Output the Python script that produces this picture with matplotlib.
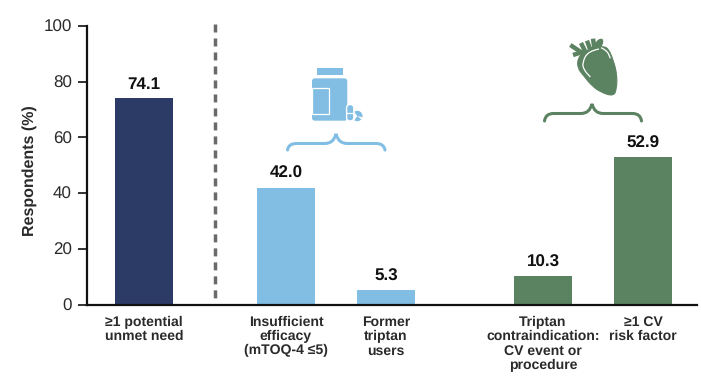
import matplotlib
matplotlib.use("Agg")
import matplotlib.pyplot as plt
from matplotlib.patches import PathPatch, FancyBboxPatch, Rectangle, Wedge
from matplotlib.path import Path

plt.rcParams['font.family'] = ['Liberation Sans', 'DejaVu Sans']
plt.rcParams['text.hinting'] = 'no_hinting'
plt.rcParams['text.hinting_factor'] = 1

categories = ["≥1 potential\nunmet need", "Insufficient\nefficacy\n(mTOQ-4 ≤5)", "Former\ntriptan\nusers",
              "Triptan\ncontraindication:\nCV event or\nprocedure", "≥1 CV\nrisk factor"]
values = [74.1, 42.0, 5.3, 10.3, 52.9]
y_ticks = [0, 20, 40, 60, 80, 100]

NAVY, BLUE, GREEN = "#2C3A66", "#82BDE3", "#5C8361"
TEXT = "#2A2A2A"
bar_colors = [NAVY, BLUE, BLUE, GREEN, GREEN]
slots = [0.575, 1.995, 2.995, 4.565, 5.565]

W, H = 701, 380
fig = plt.figure(figsize=(W / 100, H / 100), dpi=100)
ax = fig.add_axes([86.5 / W, 1 - 304.5 / H, 610.5 / W, 278.5 / H])
ax.set_xlim(0, 6.105)
ax.set_ylim(0, 100)

ax.bar(slots, values, width=0.58, color=bar_colors, linewidth=0)
for x, v in zip(slots, values):
    ax.text(x, v + 2.1, f"{v:.1f}", ha="center", va="bottom", fontsize=12.4,
            fontweight="bold", color="#111111")

for side in ("top", "right"):
    ax.spines[side].set_visible(False)
for side in ("left", "bottom"):
    ax.spines[side].set_linewidth(1.6)
    ax.spines[side].set_color("#111111")
ax.set_yticks(y_ticks)
ax.tick_params(axis="y", length=6.5, width=1.2, labelsize=12.4, labelcolor=TEXT, pad=4, color="#111111")
ax.set_xticks(slots)
ax.set_xticklabels(categories, fontsize=10.4, fontweight="bold", color=TEXT, linespacing=1.13)
ax.tick_params(axis="x", length=0, pad=8)
ax.set_ylabel("Respondents (%)", fontsize=11.3, fontweight="bold", color=TEXT)
ax.yaxis.set_label_coords(-0.0806, 0.479)

# Overlay in figure pixels for the divider, braces and icons
ov = fig.add_axes([0, 0, 1, 1], facecolor="none")
ov.set_xlim(0, W)
ov.set_ylim(H, 0)
ov.axis("off")

ov.plot([215, 215], [24, 300], color="#6A6A6A", lw=2.5, dashes=(2.3, 1.73), solid_capstyle="butt")


def brace(xl, xm, xr, y_top, y_end, color):
    v = [(xl, y_end), (xl + 1, y_top), (xl + 9, y_top),
         (xm - 12, y_top), (xm - 12, y_top), (xm - 5, y_top), (xm - 2, y_top - 3), (xm, y_top - 9.5),
         (xm + 2, y_top - 3), (xm + 5, y_top), (xm + 12, y_top),
         (xr - 9, y_top), (xr - 1, y_top), (xr, y_end)]
    c = [Path.MOVETO, Path.CURVE3, Path.CURVE3,
         Path.LINETO, Path.LINETO, Path.CURVE4, Path.CURVE4, Path.CURVE4,
         Path.CURVE4, Path.CURVE4, Path.CURVE4,
         Path.LINETO, Path.CURVE3, Path.CURVE3]
    ov.add_patch(PathPatch(Path(v, c), fc="none", ec=color, lw=2.2, capstyle="round"))


brace(287.5, 336, 385, 143.5, 150, BLUE)
brace(544.5, 592, 641.5, 113.5, 121, GREEN)

# Medicine bottle
ov.add_patch(Rectangle((316.7, 68), 26, 7.3, fc=BLUE, ec="none"))
ov.add_patch(FancyBboxPatch((313, 79.3), 33.3, 40.4, boxstyle="round,pad=0,rounding_size=1.8",
                            fc=BLUE, ec=BLUE, lw=1.4))
ov.add_patch(Rectangle((312.3, 87.5), 17, 26, fc="none", ec="white", lw=0.9))
ov.add_patch(Rectangle((309.5, 86), 2.4, 29, fc="white", ec="none"))
ov.add_patch(Wedge((357.3, 116), 5.2, -130, 15, fc=BLUE, ec="none"))
ov.add_patch(Wedge((357.3, 116), 5.2, 40, 125, fc=BLUE, ec="none"))
ov.add_patch(FancyBboxPatch((346.6, 104.5), 7.2, 16.5, boxstyle="round,pad=0,rounding_size=3.6",
                            fc=BLUE, ec="white", lw=1.0))
ov.plot([346.6, 353.8], [112.5, 112.5], color="white", lw=0.9)


def heart_px(zx, zy):
    return (565 + zx / 3, 35 + zy / 3)


def smooth_path(points):
    # Quadratic spline through midpoints of the control polygon
    verts = [heart_px(*points[0])]
    codes = [Path.MOVETO]
    for a, b in zip(points[1:-1], points[2:]):
        mid = ((a[0] + b[0]) / 2, (a[1] + b[1]) / 2)
        verts += [heart_px(*a), heart_px(*mid)]
        codes += [Path.CURVE3, Path.CURVE3]
    verts.append(heart_px(*points[-1]))
    codes.append(Path.LINETO)
    return Path(verts, codes)


# Heart: vessels first, then the body with its white vessel lines on top
for seg in [[(16, 30), (58, 58)], [(24, 60), (56, 50)], [(48, 24), (62, 52)],
            [(66, 17), (76, 45)], [(84, 11), (88, 40)]]:
    ov.plot(*zip(*[heart_px(*p) for p in seg]), color=GREEN, lw=3.2, solid_capstyle="butt")
body = [(56, 52), (85, 38), (95, 18), (112, 10), (114, 24), (106, 36), (128, 36), (146, 78),
        (156, 120), (155, 160), (146, 184), (108, 172), (80, 152), (56, 122), (38, 100), (38, 70), (56, 52)]
ov.add_patch(PathPatch(smooth_path(body), fc=GREEN, ec=GREEN, lw=0.8))
ov.add_patch(PathPatch(smooth_path([(102, 42), (70, 48), (52, 82), (56, 104), (76, 126)]),
                       fc="none", ec="white", lw=0.9))
ov.add_patch(PathPatch(smooth_path([(108, 38), (126, 46), (136, 70)]), fc="none", ec="white", lw=0.9))

fig.savefig("out.png", dpi=100)
